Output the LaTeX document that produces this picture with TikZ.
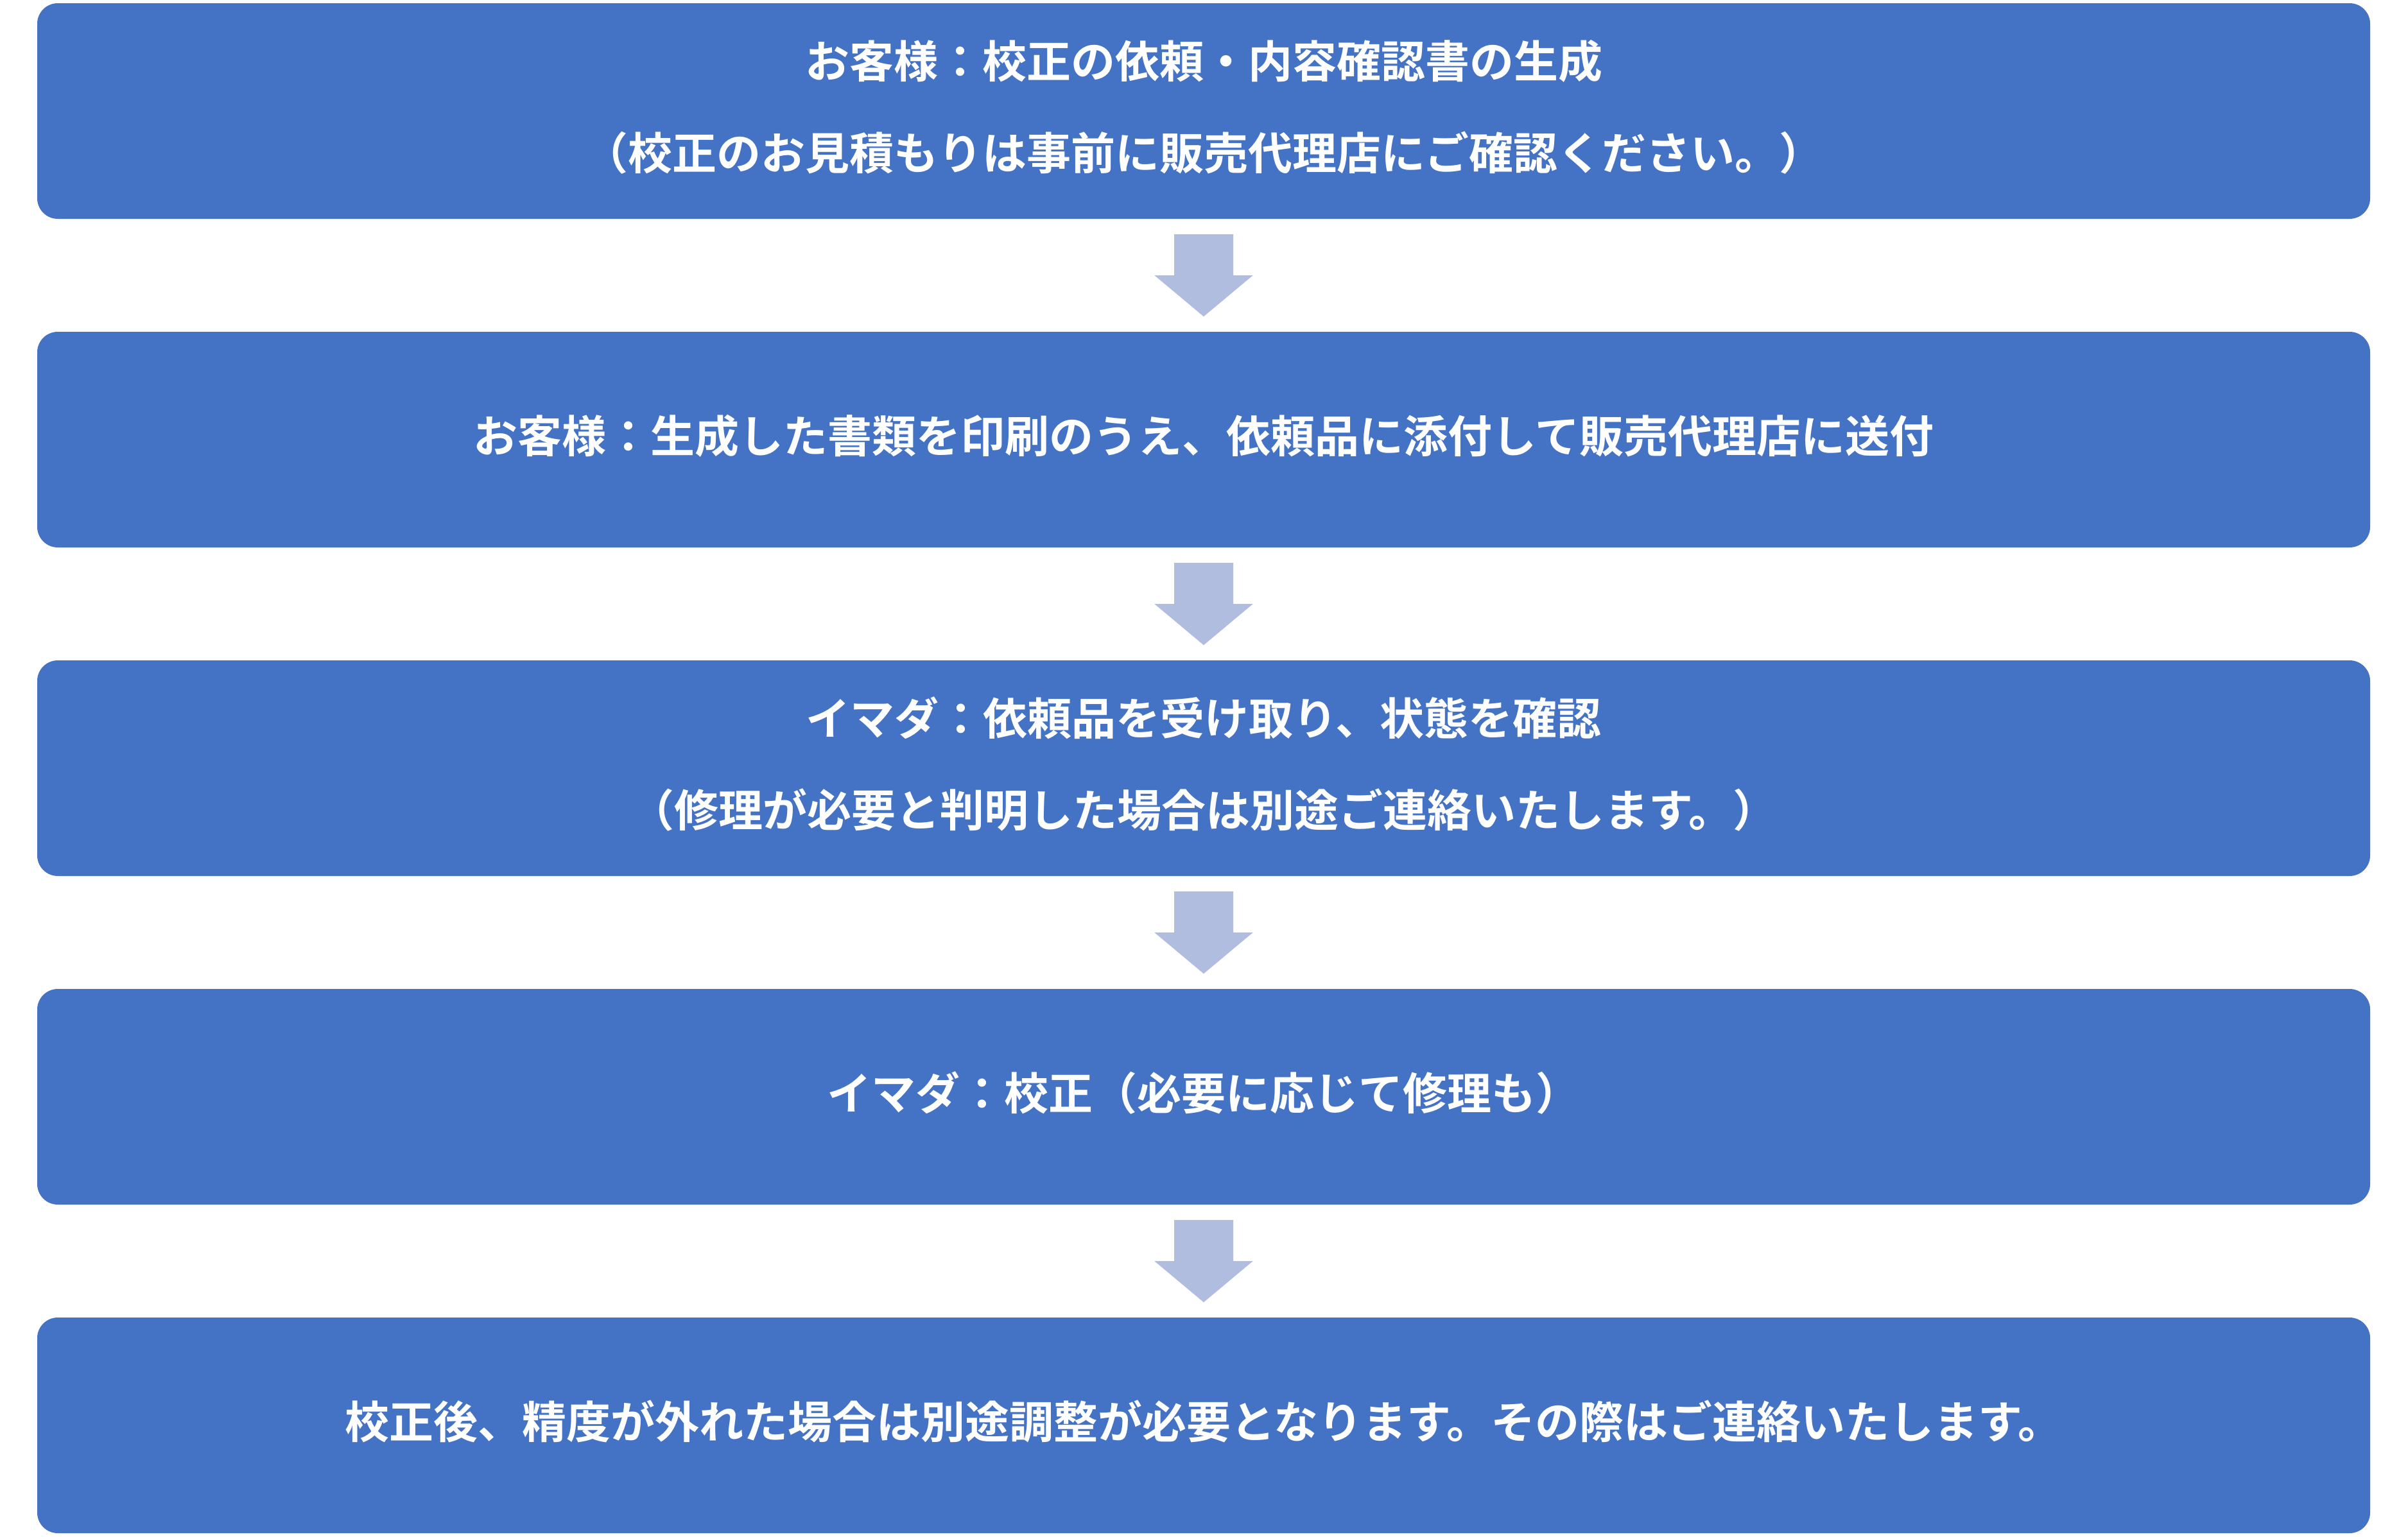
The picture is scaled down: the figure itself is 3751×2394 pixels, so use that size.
\documentclass[tikz,border=0pt]{standalone}
\usepackage{fontspec}
\setmainfont{Noto Sans CJK JP}[BoldFont={Noto Sans CJK JP Bold}]
\usetikzlibrary{calc}
\definecolor{boxblue}{HTML}{4472C4}
\definecolor{arrowblue}{HTML}{B0BDDF}
\tikzset{
  stepbox/.style={rectangle, rounded corners=32pt, fill=boxblue, draw=none,
    minimum width=3634pt, minimum height=336pt, inner sep=0pt},
  steptext/.style={inner sep=0pt, text=white, align=center,
    font=\fontsize{69pt}{143pt}\selectfont\bfseries},
  blockarrow/.style={fill=arrowblue, draw=none}
}
\begin{document}
\begin{tikzpicture}[x=1pt,y=-1pt]
\useasboundingbox (0,0) rectangle (3751,2394);
\node[stepbox] (b1) at (1875,173) {};
\node[stepbox] (b2) at (1875,685) {};
\node[stepbox] (b3) at (1875,1197) {};
\node[stepbox] (b4) at (1875,1709) {};
\node[stepbox] (b5) at (1875,2221) {};
\node[steptext] (t1) at ([yshift=6pt]b1.center) {お客様：校正の依頼・内容確認書の生成\\（校正のお見積もりは事前に販売代理店にご確認ください。）};
\node[steptext] (t2) at ([yshift=6pt]b2.center) {お客様：生成した書類を印刷のうえ、依頼品に添付して販売代理店に送付};
\node[steptext] (t3) at ([yshift=6pt]b3.center) {イマダ：依頼品を受け取り、状態を確認\\（修理が必要と判明した場合は別途ご連絡いたします。）};
\node[steptext] (t4) at ([yshift=6pt]b4.center) {イマダ：校正（必要に応じて修理も）};
\node[steptext] (t5) at ([yshift=6pt]b5.center) {校正後、精度が外れた場合は別途調整が必要となります。その際はご連絡いたします。};
\foreach \a in {b1,b2,b3,b4}{
  \coordinate (s-\a) at ([yshift=-24pt]\a.south);
  \fill[blockarrow] ($(s-\a)+(-46,0)$) -- ($(s-\a)+(46,0)$) -- ($(s-\a)+(46,64)$) -- ($(s-\a)+(76.5,64)$) -- ($(s-\a)+(0,128)$) -- ($(s-\a)+(-76.5,64)$) -- ($(s-\a)+(-46,64)$) -- cycle;
}
\end{tikzpicture}
\end{document}
